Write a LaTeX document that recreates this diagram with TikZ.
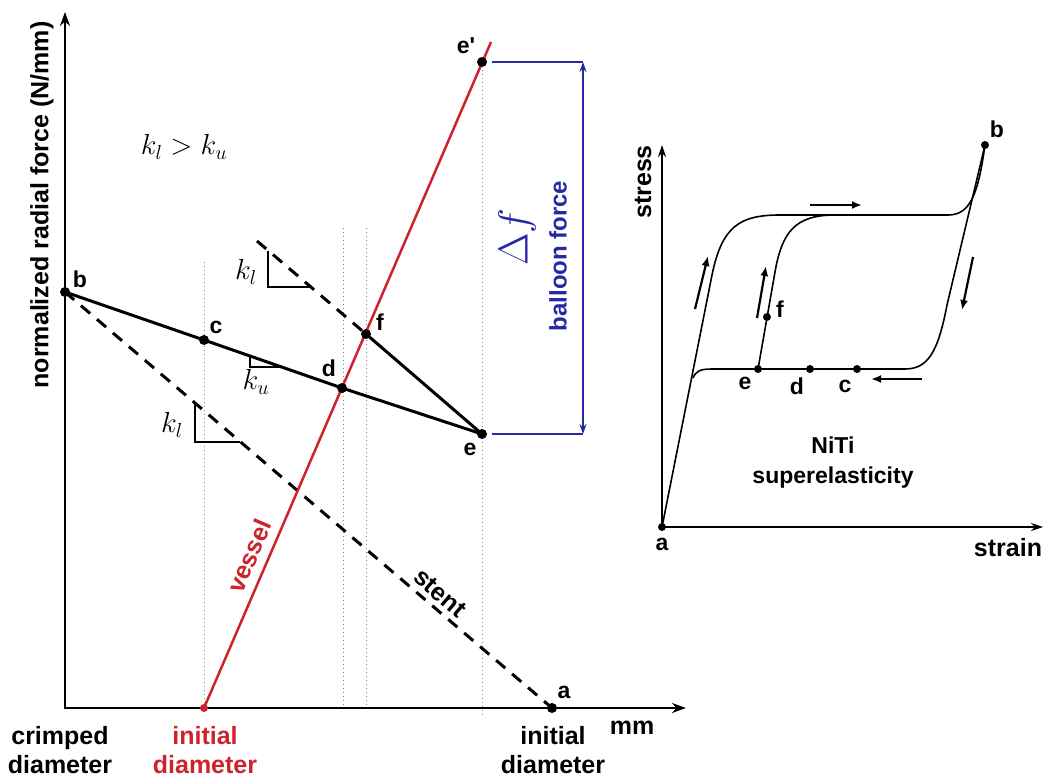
\RequirePackage{fix-cm}
\documentclass[tikz,border=0pt]{standalone}
\usepackage{fontspec}
\setmainfont{Liberation Sans}
\usetikzlibrary{arrows.meta}
\definecolor{vred}{RGB}{205,35,45}
\definecolor{bblue}{RGB}{40,40,165}
\tikzset{
  lab/.style={font=\fontsize{23}{26}\selectfont\bfseries, inner sep=0pt},
  axlab/.style={font=\fontsize{25}{29}\selectfont\bfseries, inner sep=0pt, align=center},
  mathlab/.style={font=\fontsize{29}{32}\selectfont, inner sep=0pt},
  dot/.style={circle, fill=black, inner sep=0pt, minimum size=10pt},
  sdot/.style={circle, fill=black, inner sep=0pt, minimum size=8pt},
  axisline/.style={line width=2.2pt, {Stealth[length=14pt,width=10pt]}-{Stealth[length=14pt,width=10pt]}},
  solidcurve/.style={line width=3pt},
  stentdash/.style={line width=3pt, dash pattern=on 12pt off 9pt},
  guide/.style={gray, line width=1pt, dash pattern=on 1pt off 3pt},
  tri/.style={line width=1.5pt},
  dim/.style={bblue, line width=1.5pt},
  niti/.style={line width=1.6pt},
  nitiarrow/.style={line width=2.2pt, -{Latex[length=10pt,width=8pt]}},
}
\begin{document}
\begin{tikzpicture}[x=1pt,y=-1pt]
\useasboundingbox (0,0) rectangle (1044,780);
% ---------------- main plot ----------------
\coordinate (O) at (65,708);
\coordinate (ytip) at (65,12);
\coordinate (xtip) at (686,708);
\coordinate (b) at (65,292);
\coordinate (c) at (204,340);
\coordinate (d) at (342,388);
\coordinate (e) at (482,434);
\coordinate (ep) at (482,62);
\coordinate (f) at (366,334);
\coordinate (a) at (552,708);
\coordinate (v0) at (204,708);
\coordinate (vtop) at (491,42);
\coordinate (ds) at (257,241);
% guides
\coordinate (g1t) at (204,262); \coordinate (g1b) at (204,708);
\coordinate (g2t) at (343,228); \coordinate (g2b) at (343,708);
\coordinate (g3t) at (366,228); \coordinate (g3b) at (366,708);
\coordinate (g4b) at (482,716);
\draw[guide] (g1t) -- (g1b);
\draw[guide] (g2t) -- (g2b);
\draw[guide] (g3t) -- (g3b);
\draw[guide] (ep) -- (g4b);
% axes
\draw[axisline] (ytip) -- (O) -- (xtip);
% stent lines
\draw[stentdash] (b) -- (a);
\draw[stentdash] (ds) -- (f);
% vessel
\draw[vred, line width=2.5pt] (v0) -- (vtop);
% solid response
\draw[solidcurve] (b) -- (c) -- (d) -- (e);
\draw[solidcurve] (f) -- (e);
% slope triangles
\coordinate (t1a) at (268,251); \coordinate (t1b) at (268,287); \coordinate (t1c) at (310,287);
\draw[tri] (t1a) -- (t1b) -- (t1c);
\coordinate (t2a) at (195,403); \coordinate (t2b) at (195,442); \coordinate (t2c) at (240,442);
\draw[tri] (t2a) -- (t2b) -- (t2c);
\coordinate (t3a) at (250,356); \coordinate (t3b) at (250,367); \coordinate (t3c) at (281,367);
\draw[tri] (t3a) -- (t3b) -- (t3c);
\node[mathlab] (kl1) at (246,272) {$k_l$};
\node[mathlab] (kl2) at (172,425) {$k_l$};
\node[mathlab] (ku) at (256,382) {$k_u$};
\node[mathlab] (klku) at (184,147) {$k_l > k_u$};
% dots
\node[dot] (bd) at (b) {};
\node[dot] (cd) at (c) {};
\node[dot] (dd) at (d) {};
\node[dot] (ed) at (e) {};
\node[dot] (epd) at (ep) {};
\node[dot] (fd) at (f) {};
\node[dot] (ad) at (a) {};
\node[circle, fill=vred, inner sep=0pt, minimum size=8pt] (v0d) at (v0) {};
% point labels
\node[lab] (bl) at (80,279) {b};
\node[lab] (cl) at (216,327) {c};
\node[lab] (dl) at (329,368) {d};
\node[lab] (fl) at (380,322) {f};
\node[lab] (el) at (470,449) {e};
\node[lab] (epl) at (466,46) {e\textquotesingle};
\node[lab] (al) at (564,692) {a};
% balloon force dimension
\coordinate (bt) at (583,62);
\coordinate (bb) at (583,434);
\coordinate (ept) at (492,62);
\coordinate (ebt) at (492,434);
\draw[dim] (ept) -- (bt);
\draw[dim] (ebt) -- (bb);
\draw[dim, {Stealth[length=10pt,width=7pt]}-{Stealth[length=10pt,width=7pt]}] (bt) -- (bb);
\node[bblue, font=\fontsize{42}{46}\selectfont, inner sep=0pt, rotate=90] (df) at (517,237) {$\Delta f$};
\node[bblue, lab, font=\fontsize{24}{28}\selectfont\bfseries, rotate=90] (bf) at (558,256) {balloon force};
% axis labels
\node[axlab, rotate=90] (ylab) at (42,205) {normalized radial force (N/mm)};
\node[axlab] (crl) at (60,750) {crimped\\diameter};
\node[axlab, text=vred] (idl) at (205,750) {initial\\diameter};
\node[axlab] (id2) at (553,750) {initial\\diameter};
\node[axlab] (mml) at (632,728) {mm};
\node[axlab, text=vred, rotate=66.7] (vl) at (249,556) {vessel};
\node[axlab, rotate=-40.5] (sl) at (440,593) {stent};
% ---------------- NiTi inset ----------------
\coordinate (A) at (662,527);
\coordinate (stip) at (662,145);
\coordinate (etip) at (1043,527);
\coordinate (B) at (985,145);
\coordinate (E) at (758,369);
\coordinate (D) at (810,369);
\coordinate (C) at (857,369);
\coordinate (F) at (767,317);
\draw[line width=2pt, {Stealth[length=12pt,width=8pt]}-{Stealth[length=12pt,width=8pt]}] (stip) -- (A) -- (etip);
\draw[niti] (A) -- (712,275) .. controls (722,226) and (740,215) .. (780,215) -- (948,215) .. controls (970,215) and (978,195) .. (B);
\draw[niti] (B) -- (947,305) .. controls (938,352) and (928,369) .. (905,369) -- (712,369) .. controls (700,369) and (696,371) .. (693,378);
\draw[niti] (E) -- (775,272) .. controls (782,232) and (795,215) .. (835,215);
\node[sdot] (Ad) at (A) {};
\node[sdot] (Bd) at (B) {};
\node[sdot] (Ed) at (E) {};
\node[sdot] (Dd) at (D) {};
\node[sdot] (Cd) at (C) {};
\node[sdot] (Fd) at (F) {};
\node[lab] (Al) at (662,544) {a};
\node[lab] (Bl) at (997,129) {b};
\node[lab] (El) at (745,383) {e};
\node[lab] (Dl) at (797,386) {d};
\node[lab] (Cl) at (845,386) {c};
\node[lab] (Fl) at (780,309) {f};
\coordinate (ar1s) at (810,205); \coordinate (ar1e) at (862,205);
\coordinate (ar2s) at (922,379); \coordinate (ar2e) at (871,379);
\coordinate (ar3s) at (695,309); \coordinate (ar3e) at (708,256);
\coordinate (ar4s) at (757,318); \coordinate (ar4e) at (766,266);
\coordinate (ar5s) at (973,257); \coordinate (ar5e) at (962,310);
\draw[nitiarrow] (ar1s) -- (ar1e);
\draw[nitiarrow] (ar2s) -- (ar2e);
\draw[nitiarrow] (ar3s) -- (ar3e);
\draw[nitiarrow] (ar4s) -- (ar4e);
\draw[nitiarrow] (ar5s) -- (ar5e);
\node[axlab, rotate=90] (stl) at (643,182) {stress};
\node[axlab] (srl) at (1008,548) {strain};
\node[axlab, font=\fontsize{23}{30}\selectfont\bfseries] (niti) at (833,463) {NiTi\\superelasticity};
\end{tikzpicture}
\end{document}
